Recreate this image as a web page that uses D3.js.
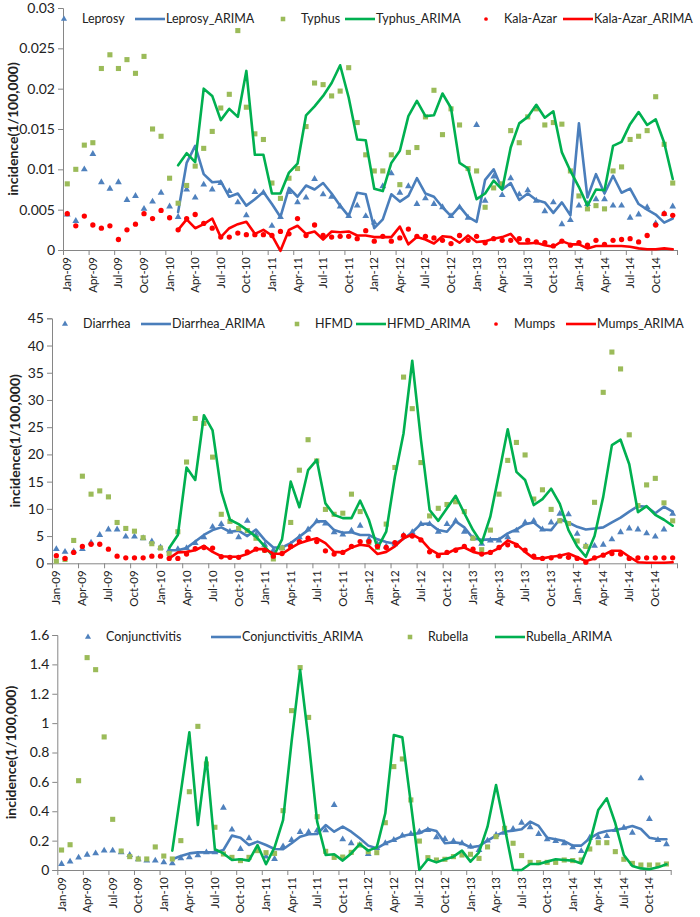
<!DOCTYPE html>
<html><head><meta charset="utf-8">
<script src="https://cdn.jsdelivr.net/npm/d3@7"></script>
<style>
body{margin:0;background:#fff}
svg{display:block}
text{font-family:Lato,"Open Sans",sans-serif;fill:#222}
</style>
</head><body>
<svg id="chart" width="700" height="917"></svg>
<script>
// ---------- categories ----------
const monthNames = ["Jan","Feb","Mar","Apr","May","Jun","Jul","Aug","Sep","Oct","Nov","Dec"];
const years = ["09","10","11","12","13","14"];
const months = years.flatMap(y => monthNames.map(m => m + "-" + y));
const arimaStartIndex = 13; // ARIMA fits start Feb-10

// ---------- panel 1 data ----------
const leprosy = [0.0044,0.0036,0.0100,0.0119,0.0084,0.0076,0.0084,0.0062,0.0067,0.0051,0.0060,0.0071,
 0.0054,0.0041,0.0075,0.0065,0.0081,0.0075,0.0083,0.0073,0.0059,0.0043,0.0072,0.0071,
 0.0030,0.0041,0.0072,0.0059,0.0065,0.0088,0.0069,0.0066,0.0054,0.0042,0.0055,0.0042,
 0.0034,0.0079,0.0095,0.0071,0.0079,0.0057,0.0064,0.0057,0.0053,0.0042,0.0053,0.0040,
 0.0155,0.0061,0.0091,0.0068,0.0089,0.0069,0.0074,0.0061,0.0048,0.0059,0.0032,0.0037,
 0.0055,0.0057,0.0063,0.0063,0.0055,0.0055,0.0040,0.0044,0.0053,0.0033,0.0045,0.0054];
const leprosyArima = [0.0047,0.0108,0.0129,0.0094,0.0084,0.0085,0.0066,0.0070,0.0055,0.0063,0.0072,
 0.0057,0.0041,0.0077,0.0066,0.0080,0.0075,0.0083,0.0070,0.0055,0.0042,0.0071,0.0069,
 0.0027,0.0038,0.0069,0.0060,0.0067,0.0089,0.0070,0.0066,0.0053,0.0042,0.0054,0.0041,
 0.0035,0.0087,0.0100,0.0075,0.0083,0.0062,0.0070,0.0062,0.0059,0.0046,0.0059,0.0043,
 0.0157,0.0065,0.0094,0.0070,0.0092,0.0071,0.0076,0.0057,0.0050,0.0044,0.0034,0.0039];
const typhus = [0.0082,0.0100,0.0130,0.0133,0.0225,0.0242,0.0225,0.0236,0.0219,0.0240,0.0150,0.0141,
 0.0089,0.0058,0.0080,0.0104,0.0126,0.0147,0.0176,0.0193,0.0272,0.0177,0.0144,0.0137,
 0.0083,0.0064,0.0089,0.0101,0.0153,0.0207,0.0205,0.0191,0.0197,0.0226,0.0158,0.0118,
 0.0098,0.0098,0.0118,0.0081,0.0121,0.0127,0.0165,0.0198,0.0143,0.0175,0.0155,0.0101,
 0.0098,0.0053,0.0077,0.0082,0.0148,0.0133,0.0165,0.0175,0.0155,0.0158,0.0156,0.0098,
 0.0067,0.0051,0.0055,0.0051,0.0098,0.0103,0.0137,0.0141,0.0148,0.0190,0.0131,0.0083];
const typhusArima = [0.0105,0.0120,0.0109,0.0200,0.0191,0.0161,0.0175,0.0165,0.0222,0.0118,0.0118,
 0.0070,0.0070,0.0096,0.0107,0.0167,0.0178,0.0191,0.0207,0.0229,0.0189,0.0137,0.0136,
 0.0076,0.0073,0.0108,0.0123,0.0166,0.0185,0.0166,0.0167,0.0194,0.0176,0.0108,0.0101,
 0.0063,0.0070,0.0086,0.0075,0.0127,0.0157,0.0165,0.0180,0.0164,0.0172,0.0121,0.0098,
 0.0078,0.0055,0.0075,0.0074,0.0129,0.0134,0.0156,0.0171,0.0155,0.0162,0.0133,0.0088];
const kalaAzar = [0.0045,0.0030,0.0042,0.0031,0.0027,0.0030,0.0013,0.0025,0.0032,0.0045,0.0039,0.0049,
 0.0040,0.0025,0.0039,0.0044,0.0033,0.0027,0.0016,0.0016,0.0021,0.0019,0.0019,0.0019,
 0.0018,0.0023,0.0020,0.0039,0.0018,0.0031,0.0018,0.0016,0.0017,0.0017,0.0014,0.0024,
 0.0011,0.0017,0.0011,0.0015,0.0026,0.0017,0.0017,0.0015,0.0012,0.0008,0.0018,0.0012,
 0.0017,0.0009,0.0014,0.0012,0.0012,0.0014,0.0012,0.0010,0.0009,0.0005,0.0011,0.0006,
 0.0009,0.0006,0.0012,0.0007,0.0012,0.0013,0.0014,0.0010,0.0018,0.0031,0.0045,0.0043];
const kalaAzarArima = [0.0025,0.0038,0.0027,0.0032,0.0039,0.0016,0.0027,0.0032,0.0035,0.0020,0.0025,
 0.0018,-0.0001,0.0025,0.0030,0.0020,0.0023,0.0013,0.0023,0.0022,0.0023,0.0018,0.0018,
 0.0016,0.0016,0.0016,0.0029,0.0007,0.0016,0.0013,0.0008,0.0017,0.0016,0.0009,0.0018,
 0.0010,0.0011,0.0014,0.0016,0.0020,0.0008,0.0008,0.0009,0.0006,0.0004,0.0011,0.0007,
 0.0007,0.0002,0.0005,0.0005,0.0005,0.0005,0.0004,0.0002,0.0001,0.0001,0.0002,0.0001];

// ---------- panel 2 data ----------
const diarrhea = [2.6,2.1,2.2,2.6,3.8,5.2,6.2,6.2,4.9,4.9,4.6,4.0,
 2.9,2.4,2.6,2.8,3.7,4.8,6.7,7.2,5.8,4.8,7.8,5.2,
 3.4,2.4,2.8,3.4,4.8,6.2,7.7,7.3,5.7,5.3,6.0,6.9,
 4.4,3.5,3.1,3.5,5.1,5.7,7.2,7.2,5.8,7.2,7.8,5.8,
 4.6,3.6,4.2,4.2,4.8,6.0,7.5,7.8,6.2,7.5,9.1,9.0,
 5.4,3.2,3.2,3.4,4.4,5.7,6.4,6.2,5.5,4.9,6.2,9.1];
const diarrheaArima = [2.4,2.4,2.8,4.0,5.2,6.1,6.6,5.8,6.0,5.0,6.2,
 4.3,2.9,2.9,3.7,4.9,6.1,7.7,7.7,6.1,5.6,5.7,5.2,
 5.2,4.4,3.9,3.6,4.5,5.7,7.2,7.3,6.1,5.8,7.7,6.6,
 4.6,4.3,4.4,4.4,5.5,6.2,7.2,7.5,6.2,6.1,8.1,7.5,
 6.7,6.2,6.4,6.6,7.5,8.4,9.5,10.5,10.4,9.2,10.4,9.5];
const hfmd = [0.4,0.7,4.2,16.0,12.7,13.3,12.2,7.5,6.4,5.9,4.7,3.6,
 2.8,1.8,5.8,18.6,26.6,25.7,19.5,9.0,7.7,6.4,6.0,4.6,
 2.4,0.8,2.8,7.5,17.1,22.7,18.8,9.9,9.0,9.2,12.7,9.5,
 3.8,2.9,7.2,17.6,34.2,28.4,18.5,8.7,10.1,10.8,11.3,9.5,
 4.6,2.5,6.1,12.7,18.9,22.2,19.9,11.8,13.5,9.9,7.8,7.3,
 4.1,3.1,11.2,31.4,38.8,35.7,23.6,10.6,14.4,15.6,11.1,7.8];
const hfmdArima = [2.8,5.2,17.6,15.3,27.2,24.4,13.2,8.0,7.2,6.1,4.9,
 3.1,1.2,4.4,15.0,10.3,17.1,19.0,11.0,8.9,8.3,8.3,11.5,
 8.0,2.8,5.8,15.9,23.9,37.2,22.7,9.8,7.8,10.1,12.4,9.2,
 6.1,3.7,8.6,16.5,24.6,16.8,15.3,10.7,11.8,13.7,10.9,6.1,
 3.1,1.2,5.0,12.2,21.7,22.7,18.2,9.4,10.5,8.9,8.0,6.9];
const mumps = [1.4,0.9,2.0,3.1,3.5,3.5,2.6,1.3,1.0,1.0,1.0,1.3,
 1.3,0.9,0.9,1.7,2.7,2.9,2.8,1.2,1.1,1.1,2.1,2.6,
 2.4,1.3,1.8,3.1,4.0,4.6,4.0,2.3,1.7,2.0,3.1,4.0,
 4.0,3.1,2.9,3.8,5.1,5.0,4.3,2.1,1.4,2.0,2.4,3.1,
 2.6,1.7,2.0,2.9,3.4,3.3,2.4,1.3,0.9,1.0,1.3,1.1,
 0.9,0.2,1.0,1.5,1.8,1.7,0.9,1.0,1.0,1.0,1.0,1.0];
const mumpsArima = [0.9,2.0,2.1,2.4,3.2,2.1,1.3,1.2,1.2,1.7,2.6,
 2.6,1.8,1.7,2.8,3.7,4.2,4.6,3.7,2.1,2.0,2.9,3.4,
 3.2,1.7,2.1,3.1,4.6,5.3,4.4,2.6,1.7,1.8,2.6,2.9,
 2.1,1.7,2.0,2.8,4.2,3.5,2.1,0.9,0.9,1.2,1.4,1.8,
 1.1,0.4,0.9,1.5,2.3,2.3,1.2,0.2,0.1,0.1,0.1,0.2];

// ---------- panel 3 data ----------
const conjunctivitis = [0.041,0.057,0.084,0.104,0.113,0.132,0.132,0.120,0.102,0.073,0.064,0.064,
 0.052,0.045,0.079,0.086,0.100,0.120,0.120,0.424,0.275,0.143,0.216,0.132,
 0.091,0.075,0.161,0.204,0.259,0.259,0.268,0.270,0.443,0.209,0.182,0.170,
 0.109,0.150,0.182,0.204,0.234,0.245,0.261,0.272,0.222,0.211,0.197,0.182,
 0.159,0.136,0.200,0.238,0.254,0.279,0.322,0.291,0.245,0.209,0.197,0.182,
 0.154,0.129,0.220,0.222,0.231,0.272,0.288,0.254,0.624,0.347,0.204,0.175];
const conjunctivitisArima = [0.073,0.095,0.113,0.120,0.120,0.120,0.136,0.234,0.220,0.170,0.193,
 0.170,0.143,0.141,0.182,0.227,0.243,0.245,0.306,0.261,0.295,0.261,0.216,
 0.166,0.148,0.182,0.204,0.231,0.243,0.250,0.279,0.266,0.182,0.188,0.182,
 0.154,0.163,0.200,0.234,0.261,0.268,0.277,0.329,0.300,0.220,0.209,0.197,
 0.166,0.166,0.216,0.250,0.266,0.272,0.284,0.300,0.279,0.220,0.209,0.209];
const rubella = [0.136,0.172,0.608,1.446,1.364,0.906,0.345,0.129,0.091,0.075,0.075,0.157,
 0.095,0.075,0.200,0.533,0.978,0.722,0.291,0.109,0.086,0.064,0.086,0.132,
 0.118,0.113,0.404,1.085,1.378,1.039,0.363,0.127,0.086,0.088,0.120,0.170,
 0.125,0.118,0.322,0.704,0.756,0.477,0.197,0.084,0.068,0.073,0.091,0.102,
 0.107,0.079,0.157,0.227,0.284,0.182,0.098,0.052,0.050,0.052,0.052,0.068,
 0.064,0.068,0.143,0.186,0.186,0.125,0.073,0.045,0.034,0.034,0.034,0.041];
const rubellaArima = [0.132,0.530,0.937,0.306,0.765,0.141,0.113,0.068,0.073,0.064,0.170,
 0.039,0.154,0.340,0.874,1.362,0.878,0.329,0.102,0.107,0.064,0.113,0.177,
 0.132,0.154,0.386,0.919,0.903,0.454,0.000,0.073,0.052,0.073,0.091,0.132,
 0.057,0.120,0.295,0.579,0.295,0.000,0.000,0.041,0.041,0.057,0.073,0.068,
 0.064,0.045,0.186,0.409,0.488,0.318,0.102,0.027,0.011,0.005,0.018,0.039];

// ---------- tick labels ----------
const yTicks1 = [0,0.005,0.01,0.015,0.02,0.025,0.03];
const yTickLabels1 = ["0","0.005","0.01","0.015","0.02","0.025","0.03"];
const yTicks2 = [0,5,10,15,20,25,30,35,40,45];
const yTickLabels2 = ["0","5","10","15","20","25","30","35","40","45"];
const yTicks3 = [0,0.2,0.4,0.6,0.8,1,1.2,1.4,1.6];
const yTickLabels3 = ["0","0.2","0.4","0.6","0.8","1","1.2","1.4","1.6"];
const yTitle = "incidence(1/100,000)";

// ---------- styles ----------
const BLUE_MK = "#4F81BD", BLUE_LN = "#4A7EBB", GREEN_MK = "#9BBB59", GREEN_LN = "#00B050", RED = "#FF0000";
const AXIS = "#868686";

const svg = d3.select("#chart");

function pad(arr){ return Array(arimaStartIndex).fill(null).concat(arr); }

const panels = [
  {left:63, right:677, top:8, bottom:250, yMax:0.03, ticks:yTicks1, labels:yTickLabels1,
   titleX:13, legendY:19, legendPos:[64,150,283,360,486,578],
   series:[
    {name:"Leprosy", type:"tri", color:BLUE_MK, data:leprosy},
    {name:"Leprosy_ARIMA", type:"line", color:BLUE_LN, data:pad(leprosyArima)},
    {name:"Typhus", type:"sq", color:GREEN_MK, data:typhus},
    {name:"Typhus_ARIMA", type:"line", color:GREEN_LN, data:pad(typhusArima)},
    {name:"Kala-Azar", type:"dot", color:RED, data:kalaAzar},
    {name:"Kala-Azar_ARIMA", type:"line", color:RED, data:pad(kalaAzarArima)}]},
  {left:52, right:677, top:318.3, bottom:563.3, yMax:45, ticks:yTicks2, labels:yTickLabels2,
   titleX:15, legendY:324, legendPos:[65,156,297,371,496,581],
   series:[
    {name:"Diarrhea", type:"tri", color:BLUE_MK, data:diarrhea},
    {name:"Diarrhea_ARIMA", type:"line", color:BLUE_LN, data:pad(diarrheaArima)},
    {name:"HFMD", type:"sq", color:GREEN_MK, data:hfmd},
    {name:"HFMD_ARIMA", type:"line", color:GREEN_LN, data:pad(hfmdArima)},
    {name:"Mumps", type:"dot", color:RED, data:mumps},
    {name:"Mumps_ARIMA", type:"line", color:RED, data:pad(mumpsArima)}]},
  {left:57.3, right:670.7, top:635, bottom:870, yMax:1.6, ticks:yTicks3, labels:yTickLabels3,
   titleX:11, legendY:637, legendPos:[88,226,410,510],
   series:[
    {name:"Conjunctivitis", type:"tri", color:BLUE_MK, data:conjunctivitis},
    {name:"Conjunctivitis_ARIMA", type:"line", color:BLUE_LN, data:pad(conjunctivitisArima)},
    {name:"Rubella", type:"sq", color:GREEN_MK, data:rubella},
    {name:"Rubella_ARIMA", type:"line", color:GREEN_LN, data:pad(rubellaArima)}]}
];

function marker(g, type, color, cx, cy, scale){
  const k = scale || 1;
  let sym = type === "tri" ? d3.symbolTriangle : type === "sq" ? d3.symbolSquare : d3.symbolCircle;
  let size = (type === "tri" ? 20 : type === "sq" ? 26 : 22) * k;
  g.append("path").attr("d", d3.symbol(sym, size)())
    .attr("transform", `translate(${cx},${cy})`).attr("fill", color);
}

panels.forEach(p => {
  const g = svg.append("g");
  const x = d3.scaleBand().domain(months).range([p.left, p.right]).padding(0);
  const xl = d3.scaleLinear().domain([0, months.length]).range([p.left, p.right]);
  const y = d3.scaleLinear().domain([0, p.yMax]).range([p.bottom, p.top]);
  const cx = i => x(months[i]) + x.bandwidth()/2;

  // Y axis
  const ya = g.append("g").attr("transform", `translate(${p.left},0)`)
    .call(d3.axisLeft(y).tickValues(p.ticks).tickFormat((d,i) => p.labels[i]).tickSize(5).tickPadding(3));
  ya.select(".domain").attr("stroke", AXIS);
  ya.selectAll(".tick line").attr("stroke", AXIS);
  ya.selectAll(".tick text").style("font-size", "14px").attr("fill", "#222");

  // X axis tick marks at category boundaries every 3 months
  const xt = g.append("g").attr("transform", `translate(0,${p.bottom})`)
    .call(d3.axisBottom(xl).tickValues(d3.range(0, months.length + 1, 3)).tickFormat("").tickSize(5).tickSizeOuter(0));
  xt.select(".domain").attr("stroke", AXIS);
  xt.selectAll(".tick line").attr("stroke", AXIS);

  // X axis labels (every third month, centered in category)
  const xlab = g.append("g").attr("transform", `translate(0,${p.bottom})`)
    .call(d3.axisBottom(x).tickValues(months.filter((d,i) => i % 3 === 0)).tickSize(0));
  xlab.select(".domain").remove();
  xlab.selectAll(".tick text")
    .attr("transform", "rotate(-90)").attr("x", -7).attr("y", 0).attr("dy", "0.35em")
    .style("text-anchor", "end").style("font-size", "11.5px").attr("fill", "#222");

  // Y axis title
  g.append("text").attr("transform", `translate(${p.titleX},${(p.top + p.bottom)/2}) rotate(-90)`)
    .attr("text-anchor", "middle").attr("dy", "0.35em")
    .style("font-size", "14px").style("font-weight", "bold").attr("fill", "#111").text(yTitle);

  // Series
  const line = d3.line().defined(d => d != null).x((d,i) => cx(i)).y(d => y(d));
  p.series.forEach(s => {
    if (s.type === "line") {
      g.append("path").datum(s.data).attr("d", line)
        .attr("fill", "none").attr("stroke", s.color).attr("stroke-width", 2.6)
        .attr("stroke-linejoin", "round").attr("stroke-linecap", "round");
    } else {
      const mg = g.append("g");
      s.data.forEach((v,i) => { if (v != null) marker(mg, s.type, s.color, cx(i), y(v)); });
    }
  });

  // Legend
  const lg = g.append("g");
  p.series.forEach((s, k) => {
    const xc = p.legendPos[k];
    let tx;
    if (s.type === "line") {
      lg.append("line").attr("x1", xc - 15).attr("x2", xc + 15).attr("y1", p.legendY).attr("y2", p.legendY)
        .attr("stroke", s.color).attr("stroke-width", 2.6);
      tx = xc + 16;
    } else {
      marker(lg, s.type, s.color, xc, p.legendY, s.type === "dot" ? 0.5 : 0.8);
      tx = xc + 18;
    }
    lg.append("text").attr("x", tx).attr("y", p.legendY).attr("dy", "0.35em")
      .style("font-size", "12.5px").attr("fill", "#222").text(s.name);
  });
});
</script>
</body></html>
